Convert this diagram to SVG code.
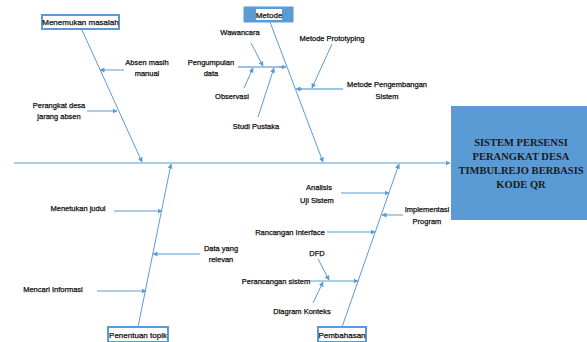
<svg xmlns="http://www.w3.org/2000/svg" width="587" height="342" viewBox="0 0 587 342">
<style>
.ln{stroke:#5b9bd5;stroke-width:1;fill:none}
.lt{stroke:#9cc3e8;stroke-width:2;fill:none}
.t{font-family:"Liberation Sans",Arial,sans-serif;font-size:7.5px;fill:#111;stroke:#111;stroke-width:0.25;text-anchor:middle}
.tb{font-family:"Liberation Sans",Arial,sans-serif;font-size:8px;fill:#111;stroke:#111;stroke-width:0.25;text-anchor:middle}
.bx{fill:#fff;stroke:#5b9bd5;stroke-width:2}
.head{font-family:"Liberation Serif","Times New Roman",serif;font-size:10.5px;font-weight:bold;fill:#1a1a1a;text-anchor:middle}
</style>
<defs>
<marker id="ah" viewBox="0 0 10 10" refX="9" refY="5" markerWidth="5" markerHeight="5" orient="auto" markerUnits="userSpaceOnUse">
<path d="M0,0 L10,5 L0,10 z" fill="#5b9bd5"/>
</marker>
</defs>
<rect width="587" height="342" fill="#fff"/>

<g id="connectors">
<line class="ln" x1="14" y1="163" x2="450" y2="163" marker-end="url(#ah)"/>
<line class="ln" x1="82" y1="30" x2="142" y2="162" marker-end="url(#ah)"/>
<line class="ln" x1="270" y1="22" x2="323" y2="162" marker-end="url(#ah)"/>
<line class="ln" x1="138" y1="327" x2="171" y2="164" marker-end="url(#ah)"/>
<line class="ln" x1="342" y1="327" x2="399" y2="164" marker-end="url(#ah)"/>

<line class="ln" x1="124" y1="70" x2="100" y2="70" marker-end="url(#ah)"/>
<line class="ln" x1="87" y1="111" x2="117" y2="111" marker-end="url(#ah)"/>

<line class="lt" x1="238" y1="67" x2="284" y2="67"/>
<line class="ln" x1="279" y1="67" x2="286" y2="67" marker-end="url(#ah)"/>
<line class="ln" x1="251" y1="43" x2="263" y2="66" marker-end="url(#ah)"/>
<line class="ln" x1="244" y1="88" x2="253" y2="68" marker-end="url(#ah)"/>
<line class="ln" x1="258" y1="117" x2="274" y2="68" marker-end="url(#ah)"/>
<line class="ln" x1="332" y1="44" x2="312" y2="88" marker-end="url(#ah)"/>
<line class="lt" x1="343" y1="89" x2="300" y2="89"/>
<line class="ln" x1="302" y1="89" x2="296" y2="89" marker-end="url(#ah)"/>

<line class="ln" x1="114" y1="211" x2="162" y2="211" marker-end="url(#ah)"/>
<line class="ln" x1="200" y1="254" x2="153" y2="254" marker-end="url(#ah)"/>
<line class="ln" x1="97" y1="291" x2="146" y2="291" marker-end="url(#ah)"/>

<line class="ln" x1="341" y1="193" x2="389" y2="193" marker-end="url(#ah)"/>
<line class="ln" x1="403" y1="215" x2="382" y2="215" marker-end="url(#ah)"/>
<line class="ln" x1="327" y1="232" x2="375" y2="232" marker-end="url(#ah)"/>
<line class="ln" x1="309" y1="281" x2="358" y2="281" marker-end="url(#ah)"/>
<line class="ln" x1="318" y1="259" x2="329" y2="280" marker-end="url(#ah)"/>
<line class="ln" x1="313" y1="303" x2="323" y2="282" marker-end="url(#ah)"/>
</g>

<g id="node-menemukan">
<rect class="bx" x="42" y="15" width="77" height="14"/>
<text class="tb" x="80.5" y="25">Menemukan masalah</text>
</g>
<g id="node-metode">
<rect x="244" y="7" width="49" height="15" fill="#5b9bd5" stroke="#5b9bd5"/>
<rect x="256" y="9" width="26" height="11" fill="#fff"/>
<text class="tb" x="269" y="18">Metode</text>
</g>
<g id="node-penentuan">
<rect class="bx" x="108" y="327" width="60" height="15"/>
<text class="tb" x="138" y="338">Penentuan topik</text>
</g>
<g id="node-pembahasan">
<rect class="bx" x="318" y="327" width="48" height="15"/>
<text class="tb" x="342" y="338">Pembahasan</text>
</g>
<g id="node-result">
<rect x="451" y="106" width="136" height="114" fill="#5b9bd5"/>
<text class="head" x="521" y="146">SISTEM PERSENSI</text>
<text class="head" x="521" y="160">PERANGKAT DESA</text>
<text class="head" x="521" y="174">TIMBULREJO BERBASIS</text>
<text class="head" x="521" y="188">KODE QR</text>
</g>

<g id="labels">
<text class="t" x="147" y="65">Absen masih</text>
<text class="t" x="147" y="76">manual</text>
<text class="t" x="59" y="108">Perangkat desa</text>
<text class="t" x="59" y="119">jarang absen</text>
<text class="t" x="240" y="35">Wawancara</text>
<text class="t" x="211" y="65">Pengumpulan</text>
<text class="t" x="211" y="76">data</text>
<text class="t" x="232" y="99">Observasi</text>
<text class="t" x="256" y="129">Studi Pustaka</text>
<text class="t" x="332" y="41">Metode Prototyping</text>
<text class="t" x="387" y="87">Metode Pengembangan</text>
<text class="t" x="387" y="99">Sistem</text>
<text class="t" x="78" y="211">Menetukan judul</text>
<text class="t" x="221" y="251">Data yang</text>
<text class="t" x="221" y="262">relevan</text>
<text class="t" x="53" y="292">Mencari Informasi</text>
<text class="t" x="319" y="190">Analisis</text>
<text class="t" x="317" y="203">Uji Sistem</text>
<text class="t" x="427" y="212">Implementasi</text>
<text class="t" x="427" y="224">Program</text>
<text class="t" x="290" y="235">Rancangan Interface</text>
<text class="t" x="317" y="256">DFD</text>
<text class="t" x="276" y="284">Perancangan sistem</text>
<text class="t" x="302" y="314">Diagram Konteks</text>
</g>
</svg>
